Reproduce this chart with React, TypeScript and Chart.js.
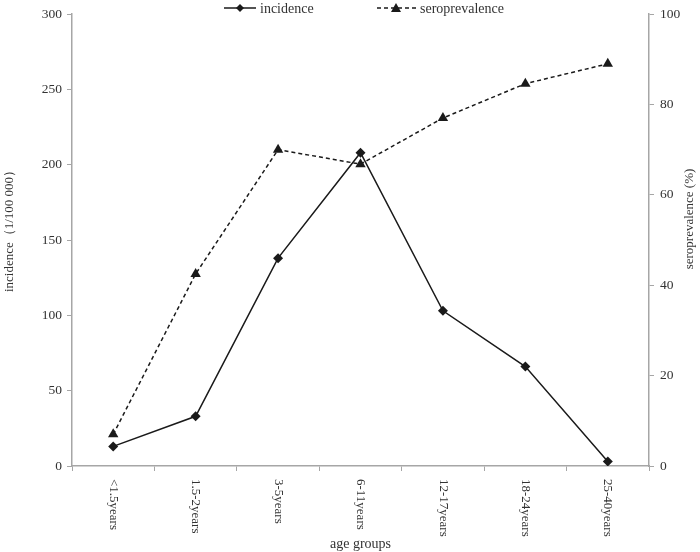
import React, { useEffect, useRef } from "react";
import { Chart, registerables } from "chart.js";

Chart.register(...registerables);

const categories = ["<1.5years", "1.5-2years", "3-5years", "6-11years", "12-17years", "18-24years", "25-40years"];
const incidence = [13, 33, 138, 208, 103, 66, 3];
const seroprevalence = [7, 42.5, 70, 66.8, 77, 84.6, 89];
const leftTicks = [0, 50, 100, 150, 200, 250, 300];
const rightTicks = [0, 20, 40, 60, 80, 100];

const SERIF = "'Liberation Serif', 'DejaVu Serif', serif";
const INK = "#1a1a1a";
const AXIS = "#a6a6a6";
const TEXT = "#333333";

const decor = {
  id: "decor",
  afterDraw(chart: any) {
    const ctx = chart.ctx;
    const xs = chart.scales.x;
    const area = chart.chartArea;
    ctx.save();
    // x labels rotated, reading top to bottom
    ctx.fillStyle = TEXT;
    ctx.font = `13px ${SERIF}`;
    ctx.textAlign = "left";
    ctx.textBaseline = "middle";
    categories.forEach((c, i) => {
      const x = xs.getPixelForValue(i);
      ctx.save();
      ctx.translate(x, area.bottom + 13);
      ctx.rotate(Math.PI / 2);
      ctx.fillText(c, 0, 0);
      ctx.restore();
    });
    // x title
    ctx.textAlign = "center";
    ctx.textBaseline = "middle";
    ctx.font = `14px ${SERIF}`;
    ctx.fillText("age groups", (area.left + area.right) / 2, 544);
    // left title
    ctx.font = `13px ${SERIF}`;
    ctx.save();
    ctx.translate(10, 228);
    ctx.rotate(-Math.PI / 2);
    ctx.fillText("incidence（1/100 000）", 0, 0);
    ctx.restore();
    // right title
    ctx.save();
    ctx.translate(690, 219);
    ctx.rotate(-Math.PI / 2);
    ctx.fillText("seroprevalence (%)", 0, 0);
    ctx.restore();
    // legend
    ctx.font = `14px ${SERIF}`;
    ctx.textAlign = "left";
    ctx.strokeStyle = INK;
    ctx.fillStyle = INK;
    ctx.lineWidth = 1.5;
    const ly = 8;
    ctx.beginPath();
    ctx.moveTo(224, ly);
    ctx.lineTo(256, ly);
    ctx.stroke();
    ctx.beginPath();
    ctx.moveTo(240, ly - 4);
    ctx.lineTo(244, ly);
    ctx.lineTo(240, ly + 4);
    ctx.lineTo(236, ly);
    ctx.closePath();
    ctx.fill();
    ctx.fillStyle = TEXT;
    ctx.fillText("incidence", 260, ly + 1);
    ctx.setLineDash([4, 3]);
    ctx.beginPath();
    ctx.moveTo(377, ly);
    ctx.lineTo(416, ly);
    ctx.stroke();
    ctx.setLineDash([]);
    ctx.fillStyle = INK;
    ctx.beginPath();
    ctx.moveTo(396, ly - 5);
    ctx.lineTo(401, ly + 4);
    ctx.lineTo(391, ly + 4);
    ctx.closePath();
    ctx.fill();
    ctx.fillStyle = TEXT;
    ctx.fillText("seroprevalence", 420, ly + 1);
    ctx.restore();
  },
};

export default function App() {
  const ref = useRef<HTMLCanvasElement | null>(null);
  useEffect(() => {
    if (!ref.current) return;
    const chart = new Chart(ref.current, {
      type: "line",
      data: {
        labels: categories,
        datasets: [
          {
            label: "incidence",
            data: incidence,
            yAxisID: "y",
            borderColor: INK,
            backgroundColor: INK,
            borderWidth: 1.5,
            pointStyle: "rectRot",
            pointRadius: 5,
            pointBorderWidth: 0,
            tension: 0,
          },
          {
            label: "seroprevalence",
            data: seroprevalence,
            yAxisID: "y1",
            borderColor: INK,
            backgroundColor: INK,
            borderWidth: 1.5,
            borderDash: [4, 3],
            pointStyle: "triangle",
            pointRadius: 6,
            pointBorderWidth: 0,
            tension: 0,
          },
        ],
      },
      options: {
        responsive: false,
        animation: false,
        layout: { padding: { top: 5, left: 0, right: 0, bottom: 0 } },
        plugins: { legend: { display: false }, tooltip: { enabled: false } },
        scales: {
          x: {
            type: "category",
            offset: true,
            grid: { offset: true, drawOnChartArea: false, tickLength: 5, color: AXIS },
            border: { color: AXIS, width: 1.5 },
            ticks: { display: false },
            afterFit: (s: any) => { s.height = 86; },
          },
          y: {
            position: "left",
            min: 0,
            max: 300,
            afterBuildTicks: (s: any) => { s.ticks = leftTicks.map((v) => ({ value: v })); },
            grid: { drawOnChartArea: false, tickLength: 5, color: AXIS },
            border: { color: AXIS, width: 1.5 },
            ticks: { color: TEXT, padding: 5, font: { family: SERIF, size: 13.5 } },
            afterFit: (s: any) => { s.width = 72; },
          },
          y1: {
            position: "right",
            min: 0,
            max: 100,
            afterBuildTicks: (s: any) => { s.ticks = rightTicks.map((v) => ({ value: v })); },
            grid: { drawOnChartArea: false, tickLength: 5, color: AXIS },
            border: { color: AXIS, width: 1.5 },
            ticks: { color: TEXT, padding: 6, font: { family: SERIF, size: 13.5 } },
            afterFit: (s: any) => { s.width = 51; },
          },
        },
      },
      plugins: [decor],
    } as any);
    return () => chart.destroy();
  }, []);
  return (
    <div style={{ position: "absolute", left: 0, top: 0, width: 700, height: 552, background: "#fff" }}>
      <canvas ref={ref} width={700} height={552} />
    </div>
  );
}
